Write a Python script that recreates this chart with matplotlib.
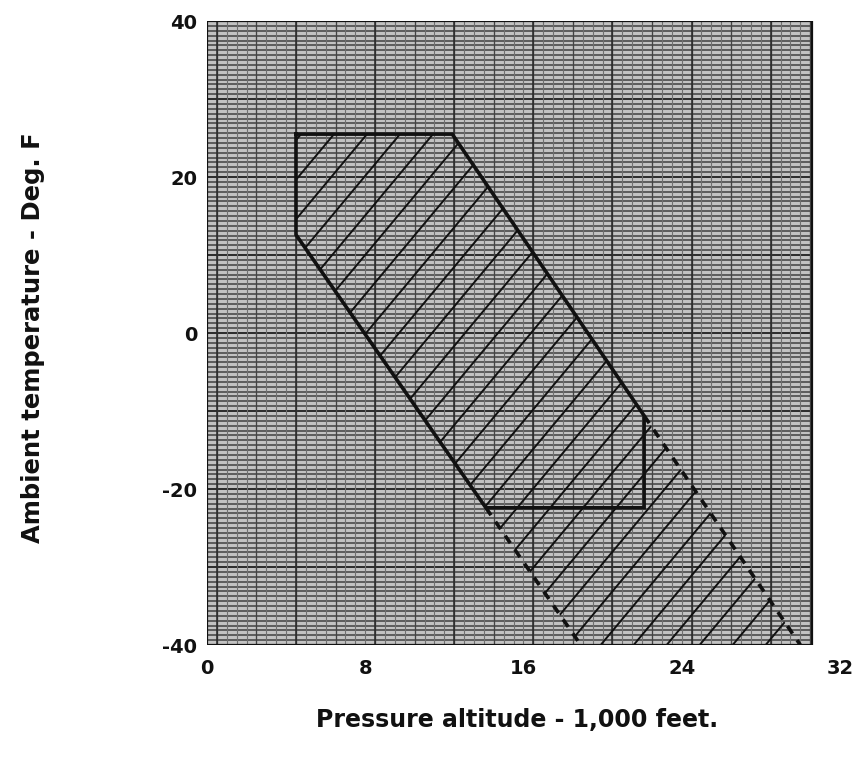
import matplotlib
matplotlib.use('Agg')
import matplotlib.pyplot as plt
import numpy as np
from matplotlib.patches import Polygon, Rectangle

# Data (x: pressure altitude in 1,000 ft, y: deg F)
x_ticks = [0, 8, 16, 24, 32]
y_ticks = [-40, -20, 0, 20, 40]

# solid outline of the envelope
env_x = [4.5, 12.4, 22.1, 22.1, 14.1, 4.5, 4.5]
env_y = [25.5, 25.5, -10.6, -22.4, -22.4, 12.6, 25.5]

# dashed extensions down to -40 F
right_ext_x = [22.1, 30.0]
right_ext_y = [-10.6, -40.0]
left_ext_x = [14.1, 18.9]
left_ext_y = [-22.4, -40.0]

# full hatched region
hatch_x = [4.5, 12.4, 30.0, 18.9, 4.5]
hatch_y = [25.5, 25.5, -40.0, -40.0, 12.6]

paper_right = 30.6

INK = '#111111'
PAPER = '#c2c2c2'

plt.rcParams['font.family'] = 'DejaVu Sans'
plt.rcParams['axes.unicode_minus'] = False

fig = plt.figure(figsize=(8.57, 7.67), dpi=100, facecolor='white')
ax = fig.add_axes([0.2415, 0.159, 0.7386, 0.8136])
ax.set_xlim(0, 32)
ax.set_ylim(-40, 40)
for s in ax.spines.values():
    s.set_visible(False)

# graph paper background
ax.add_patch(Rectangle((0, -40), paper_right, 80, facecolor=PAPER,
                       edgecolor='none', zorder=0))
ax.hlines(np.arange(-40, 40, 0.625), 0, paper_right, color='#404040',
          linewidth=1.1, zorder=1)
ax.hlines(np.arange(-40, 41, 10), 0, paper_right, color='#2a2a2a',
          linewidth=1.3, zorder=1)
ax.vlines(np.arange(0.5, paper_right, 0.5), -40, 40, color='#707070',
          linewidth=0.8, zorder=1)
ax.vlines(np.arange(0.5, paper_right, 2), -40, 40, color='#444444',
          linewidth=0.9, zorder=1)
ax.vlines(np.arange(0.5, paper_right, 4), -40, 40, color='#2a2a2a',
          linewidth=1.1, zorder=1)
ax.add_patch(Rectangle((0, -40), paper_right, 80, facecolor='none',
                       edgecolor=INK, linewidth=1.6, zorder=2))

# hatching clipped to the envelope
clip = Polygon(np.column_stack([hatch_x, hatch_y]), closed=True,
               facecolor='none', edgecolor='none', transform=ax.transData)
ax.add_patch(clip)
slope = 3.04
xx = np.array([0, 32])
for c in 0.9 + 5.07 * np.arange(-28, 3):
    ln, = ax.plot(xx, slope * xx + c, color=INK, linewidth=1.4, zorder=3)
    ln.set_clip_path(clip)

# envelope outline
ax.plot(env_x, env_y, color=INK, linewidth=2.6, zorder=4,
        solid_joinstyle='miter')
ax.plot(right_ext_x, right_ext_y, color=INK, linewidth=2.6, zorder=4,
        dashes=(2.5, 2.2))
ax.plot(left_ext_x, left_ext_y, color=INK, linewidth=2.6, zorder=4,
        dashes=(2.5, 2.2))

ax.set_xticks(x_ticks)
ax.set_yticks(y_ticks)
ax.tick_params(length=0, labelsize=14, colors=INK)
ax.tick_params(axis='x', pad=10)
ax.tick_params(axis='y', pad=7)
for lab in ax.get_xticklabels() + ax.get_yticklabels():
    lab.set_fontweight('bold')

fig.text(0.603, 0.061, 'Pressure altitude - 1,000 feet.', ha='center',
         va='center', fontsize=17, fontweight='bold', color=INK)
fig.text(0.039, 0.56, 'Ambient temperature - Deg. F', ha='center',
         va='center', rotation=90, fontsize=17.5, fontweight='bold', color=INK)

fig.savefig('out.png', dpi=100, facecolor='white')
